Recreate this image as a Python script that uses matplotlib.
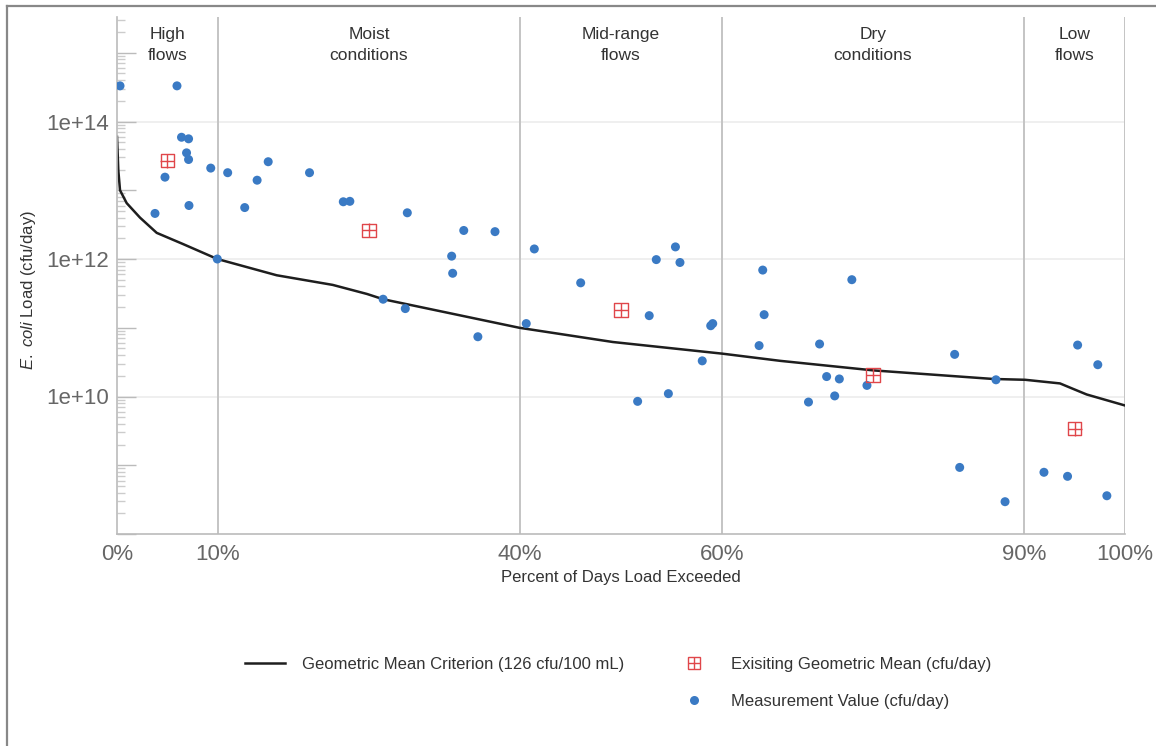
import numpy as np
import matplotlib
matplotlib.use("Agg")
import matplotlib.pyplot as plt
from matplotlib.lines import Line2D
from matplotlib.ticker import LogLocator, NullFormatter

plt.rcParams['font.family'] = ['Liberation Sans', 'DejaVu Sans']
plt.rcParams['mathtext.fontset'] = 'custom'
plt.rcParams['mathtext.it'] = 'Liberation Sans:italic'
plt.rcParams['mathtext.rm'] = 'Liberation Sans'

# load duration curve (geometric mean criterion, 126 cfu/100 mL)
curve_pct = [0, 0.03, 0.13, 0.3, 0.96, 2.28, 3.94, 6.55, 9.95, 15.84, 21.4, 24.8,
             26.4, 39.9, 49.2, 60.05, 65.8, 75.0, 86.9, 90.1, 93.55, 94.8, 96.2, 100]
curve_load = [6.0e13, 4.7e13, 1.95e13, 1.0e13, 6.5e12, 4.0e12, 2.4e12, 1.65e12, 1.0e12,
              5.8e11, 4.2e11, 3.1e11, 2.6e11, 1.0e11, 6.2e10, 4.2e10, 3.3e10, 2.4e10,
              1.8e10, 1.75e10, 1.55e10, 1.3e10, 1.07e10, 7.4e9]

# measurements (cfu/day)
meas_pct = [0.3, 5.95, 6.4, 7.1, 6.9, 7.1, 4.76, 3.77, 7.14, 9.3, 10.98, 13.9, 15.0,
            12.67, 19.1, 22.45, 23.1, 9.95, 28.8, 34.4, 37.5, 33.2, 33.3, 41.4, 46.0,
            53.5, 55.4, 55.85, 64.06, 72.9, 26.4, 28.6, 35.8, 40.6, 52.8, 51.65, 54.7,
            58.06, 58.9, 59.1, 63.7, 64.2, 69.7, 70.4, 71.66, 68.6, 71.2, 74.4, 83.1,
            87.2, 83.6, 88.1, 91.96, 94.3, 95.3, 97.3, 98.2]
meas_load = [3.3e14, 3.3e14, 5.9e13, 5.6e13, 3.5e13, 2.8e13, 1.55e13, 4.6e12, 6.0e12,
             2.1e13, 1.8e13, 1.4e13, 2.6e13, 5.6e12, 1.8e13, 6.8e12, 6.9e12, 1.0e12,
             4.7e12, 2.6e12, 2.5e12, 1.1e12, 6.2e11, 1.4e12, 4.5e11, 9.8e11, 1.5e12,
             8.9e11, 6.9e11, 5.0e11, 2.6e11, 1.9e11, 7.4e10, 1.15e11, 1.5e11, 8.5e9,
             1.1e10, 3.3e10, 1.07e11, 1.15e11, 5.5e10, 1.55e11, 5.8e10, 1.95e10, 1.8e10,
             8.3e9, 1.02e10, 1.45e10, 4.1e10, 1.75e10, 9.3e8, 2.95e8, 7.9e8, 6.9e8,
             5.6e10, 2.9e10, 3.6e8]

# existing geometric mean per flow regime
gm_pct = [5, 25, 50, 75, 95]
gm_load = [2.7e13, 2.6e12, 1.8e11, 2.05e10, 3.4e9]

zone_names = ['High\nflows', 'Moist\nconditions', 'Mid-range\nflows', 'Dry\nconditions', 'Low\nflows']
zone_bounds = [10, 40, 60, 90, 100]

xtick_vals = [0, 10, 40, 60, 90, 100]
xtick_labels = ['0%', '10%', '40%', '60%', '90%', '100%']
ytick_vals = [1e8, 1e9, 1e10, 1e11, 1e12, 1e13, 1e14, 1e15]
ytick_labels = ['', '', '1e+10', '', '1e+12', '', '1e+14', '']

blue = '#3a7ac4'
red = '#e0464a'

fig = plt.figure(figsize=(11.56, 7.46), dpi=100)
ax = fig.add_axes([117 / 1156, 1 - 534 / 746, (1125 - 117) / 1156, (534 - 17) / 746])

ax.set_yscale('log')
ax.set_xlim(0, 100)
ax.set_ylim(10 ** 8.136, 10 ** 15.52)

for yv in [1e10, 1e12, 1e14]:
    ax.axhline(yv, color='#ececec', lw=1.2, zorder=0)
for xv in zone_bounds:
    ax.axvline(xv, color='#c4c4c4', lw=1.4, zorder=0)

ax.plot(curve_pct, curve_load, color='#1e1e1e', lw=1.8, zorder=2)
ax.scatter(meas_pct, meas_load, s=42, color=blue, edgecolors='none', zorder=3)
ax.scatter(gm_pct, gm_load, s=95, marker='s', facecolors='none', edgecolors=red, linewidths=1.0, zorder=4)
ax.scatter(gm_pct, gm_load, s=95, marker='+', color=red, linewidths=1.0, zorder=4)

prev = 0
for name, b in zip(zone_names, zone_bounds):
    ax.text((prev + b) / 2, 10 ** 15.11, name, ha='center', va='center', fontsize=12.5,
            color='#333333', linespacing=1.55)
    prev = b

ax.set_xticks(xtick_vals)
ax.set_xticklabels(xtick_labels)
ax.tick_params(axis='x', length=0, pad=7, labelsize=16, labelcolor='#666666')

ax.set_yticks(ytick_vals)
ax.set_yticklabels(ytick_labels)
ax.yaxis.set_minor_locator(LogLocator(base=10, subs=np.arange(2, 10)))
ax.yaxis.set_minor_formatter(NullFormatter())
ax.tick_params(axis='y', which='major', direction='in', length=14, width=1, color='#bbbbbb',
               labelsize=16, labelcolor='#666666', pad=6)
ax.tick_params(axis='y', which='minor', direction='in', length=6, width=1, color='#cccccc')

for side in ['top', 'right']:
    ax.spines[side].set_visible(False)
for side in ['left', 'bottom']:
    ax.spines[side].set_color('#bbbbbb')
    ax.spines[side].set_linewidth(1.2)

ax.set_xlabel('Percent of Days Load Exceeded', fontsize=12, color='#333333', labelpad=4)
ax.set_ylabel(r'$\it{E.\ coli}$ Load (cfu/day)', fontsize=12, color='#333333')
ax.yaxis.set_label_coords(-0.078, 0.472)

h_line = Line2D([], [], color='#1e1e1e', lw=1.8)
h_blank = Line2D([], [], alpha=0)
h_sq = Line2D([], [], marker='s', ls='none', markersize=9, markerfacecolor='none',
              markeredgecolor=red, markeredgewidth=1.0)
h_plus = Line2D([], [], marker='+', ls='none', markersize=9, color=red, markeredgewidth=1.0)
h_dot = Line2D([], [], marker='o', ls='none', markersize=6.5, color=blue, markeredgewidth=0)
fig.legend([h_line, h_blank, (h_sq, h_plus), h_dot],
           ['Geometric Mean Criterion (126 cfu/100 mL)', ' ',
            'Exisiting Geometric Mean (cfu/day)', 'Measurement Value (cfu/day)'],
           ncol=2, loc='center', bbox_to_anchor=(0.535, 1 - 683 / 746), frameon=False,
           fontsize=12, labelcolor='#333333', handlelength=2.4, handletextpad=1.0,
           columnspacing=3.0, labelspacing=1.3)

# frame edges of the original screenshot
fig.add_artist(Line2D([7 / 1156, 7 / 1156], [0, 1 - 6 / 746], color='#888888', lw=1.6))
fig.add_artist(Line2D([7 / 1156, 1], [1 - 6 / 746, 1 - 6 / 746], color='#888888', lw=1.6))

fig.savefig('out.png', dpi=100)
